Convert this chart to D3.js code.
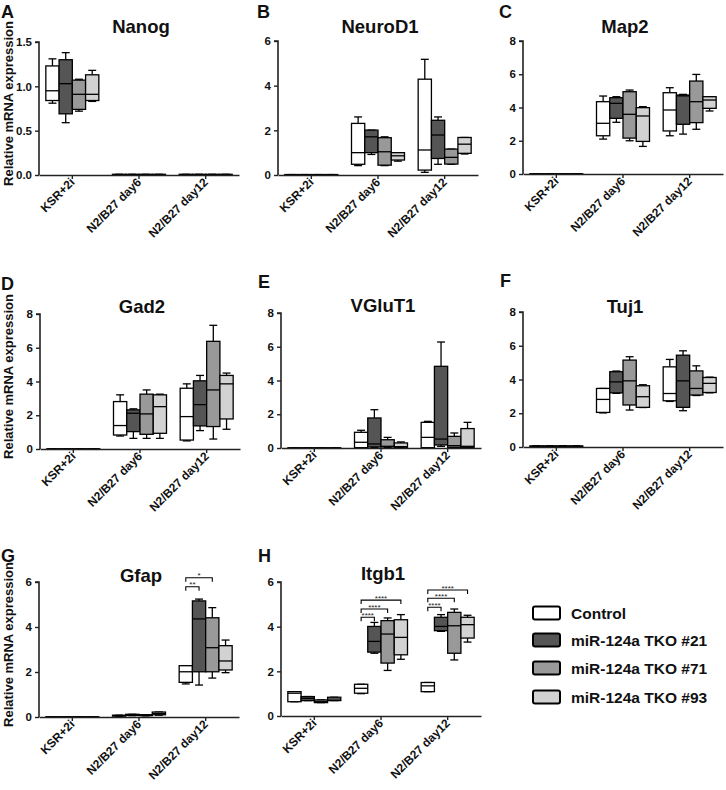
<!DOCTYPE html>
<html>
<head>
<meta charset="utf-8">
<script src="https://cdn.jsdelivr.net/npm/d3@7"></script>
<style>
  body { margin: 0; background: #fff; }
  svg text { font-family: Arial, "Liberation Sans", sans-serif; font-weight: bold; fill: #111; }
</style>
</head>
<body>
<div id="chart"></div>
<script>
// categories and series
var categories = ["KSR+2i", "N2/B27 day6", "N2/B27 day12"];
var series = ["Control", "miR-124a TKO #21", "miR-124a TKO #71", "miR-124a TKO #93"];
var fills = ["#ffffff", "#555555", "#999999", "#d2d2d2"];

// box values per gene: [category][series] = [min, q1, median, q3, max]
var zero = [0, 0, 0.004, 0.008, 0.008];
var nanog = [
  [[0.81, 0.84, 0.95, 1.23, 1.31], [0.59, 0.69, 1.03, 1.30, 1.38], [0.72, 0.74, 0.91, 1.07, 1.08], [0.83, 0.84, 0.91, 1.13, 1.18]],
  [zero, zero, zero, zero],
  [zero, zero, zero, zero]
];
var neurod1 = [
  [[0, 0, 0.01, 0.02, 0.02], [0, 0, 0.01, 0.02, 0.02], [0, 0, 0.01, 0.02, 0.02], [0, 0, 0.01, 0.02, 0.02]],
  [[0.42, 0.48, 1.00, 2.31, 2.60], [0.92, 1.00, 1.71, 2.01, 2.01], [0.42, 0.44, 1.04, 1.67, 1.71], [0.62, 0.67, 0.86, 1.00, 1.00]],
  [[0.12, 0.22, 1.12, 4.29, 5.18], [0.48, 0.74, 1.79, 2.45, 2.60], [0.48, 0.49, 0.79, 1.16, 1.16], [0.94, 0.97, 1.38, 1.68, 1.68]]
];
var map2 = [
  [zero, zero, zero, zero],
  [[2.10, 2.30, 3.05, 4.35, 4.69], [3.11, 3.35, 4.25, 4.59, 4.65], [2.00, 2.16, 3.59, 4.95, 5.05], [1.66, 1.96, 3.49, 3.99, 4.05]],
  [[2.30, 2.59, 3.85, 4.89, 5.19], [2.40, 2.99, 4.70, 4.75, 4.79], [2.69, 3.09, 4.35, 5.59, 5.99], [3.79, 3.95, 4.45, 4.65, 4.65]]
];
var gad2 = [
  [zero, zero, zero, zero],
  [[0.77, 0.83, 1.39, 2.81, 3.21], [0.63, 1.03, 2.12, 2.32, 2.38], [0.63, 0.87, 2.08, 3.25, 3.50], [0.63, 0.93, 2.51, 3.21, 3.25]],
  [[0.48, 0.53, 1.92, 3.60, 3.86], [1.09, 1.37, 2.63, 4.04, 4.36], [0.59, 1.33, 3.50, 6.38, 7.33], [1.17, 1.78, 3.86, 4.36, 4.50]]
];
var vglut1 = [
  [zero, zero, zero, zero],
  [[0.00, 0.02, 0.34, 0.93, 1.05], [0.04, 0.06, 0.24, 1.78, 2.27], [0.04, 0.06, 0.10, 0.49, 0.63], [0.04, 0.04, 0.08, 0.30, 0.36]],
  [[0.00, 0.02, 0.63, 1.52, 1.58], [0.10, 0.18, 0.53, 4.84, 6.28], [0.04, 0.04, 0.14, 0.69, 0.89], [0.04, 0.04, 0.10, 1.15, 1.52]]
];
var tuj1 = [
  [[0.03, 0.04, 0.05, 0.06, 0.07], [0.03, 0.04, 0.05, 0.06, 0.07], [0.03, 0.04, 0.05, 0.06, 0.07], [0.03, 0.04, 0.05, 0.06, 0.07]],
  [[2.02, 2.05, 2.82, 3.47, 3.47], [3.18, 3.21, 3.86, 4.46, 4.50], [2.19, 2.49, 3.92, 5.15, 5.35], [2.34, 2.35, 2.98, 3.63, 3.69]],
  [[2.70, 2.74, 3.17, 4.75, 5.19], [2.15, 2.35, 3.92, 5.44, 5.70], [3.05, 3.08, 3.47, 4.51, 4.81], [3.21, 3.23, 3.77, 4.12, 4.14]]
];
var gfap = [
  [zero, zero, zero, zero],
  [[0.03, 0.04, 0.06, 0.08, 0.08], [0.06, 0.07, 0.09, 0.12, 0.12], [0.05, 0.06, 0.08, 0.10, 0.10], [0.08, 0.10, 0.15, 0.22, 0.22]],
  [[1.47, 1.54, 2.01, 2.28, 2.28], [1.42, 2.01, 4.36, 5.16, 5.24], [1.73, 2.01, 3.08, 4.41, 4.86], [1.97, 2.09, 2.49, 3.17, 3.42]]
];
var itgb1 = [
  [[0.64, 0.64, 1.02, 1.09, 1.09], [0.69, 0.69, 0.79, 0.87, 0.87], [0.60, 0.60, 0.64, 0.72, 0.72], [0.69, 0.69, 0.76, 0.84, 0.84]],
  [[1.00, 1.02, 1.24, 1.42, 1.42], [2.81, 2.86, 3.34, 4.01, 4.19], [2.04, 2.37, 3.67, 4.27, 4.39], [2.54, 2.74, 3.52, 4.31, 4.54]],
  [[1.09, 1.09, 1.35, 1.50, 1.50], [3.79, 3.82, 4.01, 4.42, 4.54], [2.51, 2.81, 4.04, 4.64, 4.79], [3.31, 3.49, 4.09, 4.42, 4.51]]
];

// significance brackets: [category, from series, to series, level, label]
var gfapSig = [[2, 0, 1, 5.79, "**"], [2, 0, 2, 6.19, "*"]];
var itgb1Sig = [
  [1, 0, 1, 4.42, "****"], [1, 0, 2, 4.79, "****"], [1, 0, 3, 5.19, "****"],
  [2, 0, 1, 4.87, "****"], [2, 0, 2, 5.27, "****"], [2, 0, 3, 5.64, "****"]
];

// panel layout
var panels = [
  {letter: "A", title: "Nanog",   data: nanog,   ymax: 1.5, ticks: [0, 0.5, 1, 1.5], fmt: ".1f", x0: 39,  ytop: 42,  ybot: 175, lx: 1,   ly: 18,  ty: 33,  ylab: true},
  {letter: "B", title: "NeuroD1", data: neurod1, ymax: 6,   ticks: [0, 2, 4, 6],     fmt: "d",   x0: 278, ytop: 41,  ybot: 175, lx: 257, ly: 18,  ty: 33},
  {letter: "C", title: "Map2",    data: map2,    ymax: 8,   ticks: [0, 2, 4, 6, 8],  fmt: "d",   x0: 523, ytop: 41,  ybot: 174, lx: 499, ly: 18,  ty: 33},
  {letter: "D", title: "Gad2",    data: gad2,    ymax: 8,   ticks: [0, 2, 4, 6, 8],  fmt: "d",   x0: 40,  ytop: 314, ybot: 449, lx: 1,   ly: 290, ty: 313, ylab: true},
  {letter: "E", title: "VGluT1",  data: vglut1,  ymax: 8,   ticks: [0, 2, 4, 6, 8],  fmt: "d",   x0: 281, ytop: 313, ybot: 448, lx: 258, ly: 288, ty: 312},
  {letter: "F", title: "Tuj1",    data: tuj1,    ymax: 8,   ticks: [0, 2, 4, 6, 8],  fmt: "d",   x0: 523, ytop: 312, ybot: 447, lx: 500, ly: 287, ty: 313},
  {letter: "G", title: "Gfap",    data: gfap,    ymax: 6,   ticks: [0, 2, 4, 6],     fmt: "d",   x0: 39,  ytop: 582, ybot: 717, lx: 1,   ly: 562, ty: 582, ylab: true, sig: gfapSig},
  {letter: "H", title: "Itgb1",   data: itgb1,   ymax: 6,   ticks: [0, 2, 4, 6],     fmt: "d",   x0: 281, ytop: 582, ybot: 716, lx: 258, ly: 562, ty: 580, sig: itgb1Sig}
];

var width = 726;
var height = 790;
var plot_width = 200;
var box_span = 26.5;
var axis_color = "#222";

var svg = d3.select("#chart").append("svg")
    .attr("width", width)
    .attr("height", height);

panels.forEach(function(p) {
    var g = svg.append("g");
    var x = d3.scaleBand().domain(categories).range([p.x0, p.x0 + plot_width]);
    var xs = d3.scaleBand().domain(series).range([-box_span, box_span]);
    var y = d3.scaleLinear().domain([0, p.ymax]).range([p.ybot, p.ytop]);

    // panel letter and title
    g.append("text").attr("x", p.lx).attr("y", p.ly)
        .style("font-size", "18px").text(p.letter);
    g.append("text").attr("x", p.x0 + 102).attr("y", p.ty)
        .attr("text-anchor", "middle").style("font-size", "18.5px").text(p.title);

    if (p.ylab) {
        g.append("text")
            .attr("transform", "translate(13," + ((p.ytop + p.ybot) / 2 - 5) + ") rotate(-90)")
            .attr("text-anchor", "middle")
            .style("font-size", "13px")
            .text("Relative mRNA expression");
    }

    // boxes
    p.data.forEach(function(cat, ci) {
        cat.forEach(function(v, si) {
            var cx = x(categories[ci]) + x.bandwidth() / 2;
            var bx = cx + xs(series[si]);
            var bw = xs.bandwidth();
            var mid = bx + bw / 2;
            var cap = bw * 0.3;
            var bg = g.append("g").attr("stroke", "#000").attr("stroke-width", 1.3).attr("fill", "none");
            // whiskers
            bg.append("line").attr("x1", mid).attr("x2", mid).attr("y1", y(v[4])).attr("y2", y(v[3]));
            bg.append("line").attr("x1", mid).attr("x2", mid).attr("y1", y(v[1])).attr("y2", y(v[0]));
            bg.append("line").attr("x1", mid - cap).attr("x2", mid + cap).attr("y1", y(v[4])).attr("y2", y(v[4]));
            bg.append("line").attr("x1", mid - cap).attr("x2", mid + cap).attr("y1", y(v[0])).attr("y2", y(v[0]));
            // box
            bg.append("rect")
                .attr("x", bx).attr("y", y(v[3]))
                .attr("width", bw).attr("height", Math.max(0.5, y(v[1]) - y(v[3])))
                .attr("fill", fills[si]);
            bg.append("line").attr("x1", bx).attr("x2", bx + bw).attr("y1", y(v[2])).attr("y2", y(v[2]));
        });
    });

    // significance brackets
    (p.sig || []).forEach(function(s) {
        var cx = x(categories[s[0]]) + x.bandwidth() / 2;
        var xa = cx + xs(series[s[1]]) + xs.bandwidth() / 2;
        var xb = cx + xs(series[s[2]]) + xs.bandwidth() / 2;
        var yy = y(s[3]);
        g.append("path")
            .attr("d", "M" + xa + "," + (yy + 4) + "V" + yy + "H" + xb + "V" + (yy + 4))
            .attr("fill", "none").attr("stroke", "#000").attr("stroke-width", 1.1);
        g.append("text").attr("x", (xa + xb) / 2).attr("y", yy + 0.5)
            .attr("text-anchor", "middle")
            .style("fill", "#222")
            .style("font-size", "8px").style("font-weight", "normal")
            .text(s[4]);
    });

    // axes
    var yAxis = g.append("g").attr("transform", "translate(" + p.x0 + ",0)")
        .call(d3.axisLeft(y).tickValues(p.ticks).tickFormat(d3.format(p.fmt)).tickSize(4).tickPadding(3));
    var xAxis = g.append("g").attr("transform", "translate(0," + p.ybot + ")")
        .call(d3.axisBottom(x).tickSize(4).tickSizeOuter(0).tickFormat(""));
    [yAxis, xAxis].forEach(function(a) {
        a.select(".domain").attr("stroke", axis_color).attr("stroke-width", 1.6);
        a.selectAll(".tick line").attr("stroke", axis_color).attr("stroke-width", 1.4);
    });
    yAxis.select(".domain").attr("d", "M-4," + p.ytop + "H0V" + p.ybot);
    yAxis.selectAll(".tick text").style("font-size", "11.5px").attr("fill", "#111");

    g.selectAll(".xlab").data(categories).enter().append("text")
        .attr("class", "xlab")
        .attr("text-anchor", "end")
        .attr("transform", function(d) {
            return "translate(" + (x(d) + x.bandwidth() / 2 + 3) + "," + (p.ybot + 8) + ") rotate(-45)";
        })
        .style("font-size", "12px")
        .text(function(d) { return d; });
});

// legend
var legend = svg.append("g");
var legend_y = [613, 640, 668, 697];
series.forEach(function(s, i) {
    legend.append("rect")
        .attr("x", 533).attr("y", legend_y[i] - 6.5)
        .attr("width", 27).attr("height", 13).attr("rx", 2)
        .attr("fill", fills[i]).attr("stroke", "#000").attr("stroke-width", 2);
    legend.append("text")
        .attr("x", 571).attr("y", legend_y[i] + 5.5)
        .style("font-size", "15.5px")
        .text(s);
});
</script>
</body>
</html>
